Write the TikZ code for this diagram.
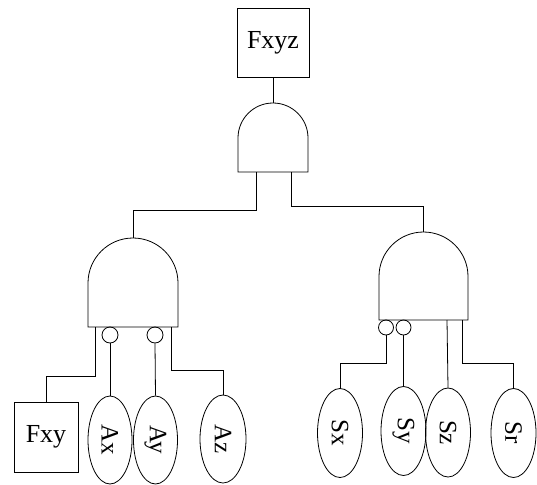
\documentclass[tikz,border=0pt]{standalone}
\usepackage{fontspec}
\setmainfont{Liberation Serif}
\usetikzlibrary{shapes.geometric}
\tikzset{
  wire/.style={draw, line width=0.8pt},
  boxnode/.style={draw, line width=0.8pt, rectangle, inner sep=0pt, font=\fontsize{26}{30}\selectfont},
  basic/.style={draw, line width=0.8pt, ellipse, inner sep=0pt, minimum width=45pt, minimum height=89pt, font=\fontsize{25}{30}\selectfont},
  inv/.style={draw, line width=0.8pt, circle, inner sep=0pt, minimum size=15pt},
}
\begin{document}
\begin{tikzpicture}[x=1pt,y=-1pt]
\useasboundingbox (0,0) rectangle (537,484);
% top event
\node[boxnode, minimum width=72pt, minimum height=69pt] (fxyz) at (273,42.5) {Fxyz};
% gates
\draw[wire] (238,172) -- (238,138) arc[start angle=180, end angle=360, radius=35] -- (308,172) -- cycle;
\coordinate (g1top) at (273,103);
\coordinate (g1a) at (256,172);
\coordinate (g1b) at (291,172);
\draw[wire] (88,327) -- (88,283) arc[start angle=180, end angle=360, radius=45] -- (178,327) -- cycle;
\coordinate (gLtop) at (133,238);
\coordinate (gLa) at (95,327);
\coordinate (gLd) at (171,327);
\draw[wire] (379,320) -- (379,276.5) arc[start angle=180, end angle=360, radius=44.5] -- (468,320) -- cycle;
\coordinate (gRtop) at (423.5,232);
\coordinate (gRc) at (447,320);
\coordinate (gRd) at (462,320);
% leaves
\node[boxnode, minimum width=64pt, minimum height=70pt] (fxy) at (46,437) {Fxy};
\node[basic, minimum width=44pt, minimum height=88pt] (ax) at (110,440) {\rotatebox{-90}{Ax}};
\node[basic, minimum width=44pt, minimum height=88pt] (ay) at (155.5,440) {\rotatebox{-90}{Ay}};
\node[basic, minimum width=46pt, minimum height=88pt] (az) at (223,439) {\rotatebox{-90}{Az}};
\node[basic] (sx) at (340,433) {\rotatebox{-90}{Sx}};
\node[basic] (sy) at (403.5,431) {\rotatebox{-90}{Sy}};
\node[basic] (sz) at (448,432.5) {\rotatebox{-90}{Sz}};
\node[basic] (sr) at (513.5,433) {\rotatebox{-90}{Sr}};
% inverters
\node[inv, minimum size=16pt] (cLa) at (110,335) {};
\node[inv, minimum size=16pt] (cLb) at (155,335) {};
\node[inv] (cRa) at (386,327.5) {};
\node[inv] (cRb) at (403.5,327.5) {};
% connectors
\draw[wire] (fxyz.south) -- (g1top);
\draw[wire] (g1a) -- ++(0,38) -| (gLtop);
\draw[wire] (g1b) -- ++(0,34) -| (gRtop);
\draw[wire] (gLa) -- ++(0,49) -| (fxy.north);
\draw[wire] (cLa.south) -- (ax.north);
\draw[wire] (cLb.south) -- (ay.north);
\draw[wire] (gLd) -- ++(0,43) -| (az.north);
\draw[wire] (cRa.south) -- ++(0,28) -| (sx.north);
\draw[wire] (cRb.south) -- (sy.north);
\draw[wire] (gRc) -- (sz.north);
\draw[wire] (gRd) -- ++(0,43) -| (sr.north);
\end{tikzpicture}
\end{document}
